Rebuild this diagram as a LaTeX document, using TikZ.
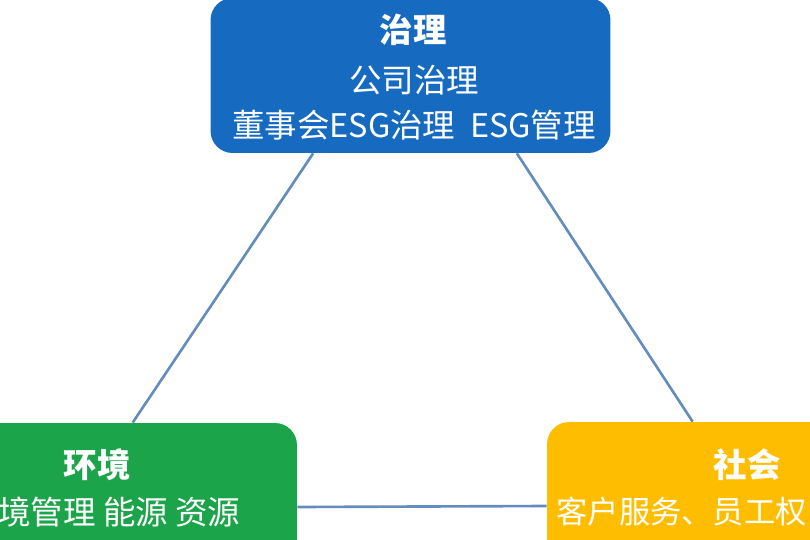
\documentclass[tikz,border=0pt]{standalone}
\usepackage{fontspec}
\newfontfamily\cjk{Noto Sans CJK SC}
\usetikzlibrary{positioning}

\definecolor{govblue}{RGB}{22,106,192}
\definecolor{envgreen}{RGB}{28,164,74}
\definecolor{socyellow}{RGB}{255,189,0}
\definecolor{linkblue}{RGB}{100,140,188}

\tikzset{
  pillar/.style={rounded corners=0.44cm, minimum width=8cm, minimum height=3.6cm, inner sep=0pt},
  headline/.style={text=white, font=\cjk\bfseries\fontsize{19}{22}\selectfont, inner sep=0pt},
  itemline/.style={text=white, font=\cjk\fontsize{18.5}{21}\selectfont, inner sep=0pt},
  link/.style={draw=linkblue, line width=1.5pt}
}

\begin{document}
\begin{tikzpicture}[x=0.02cm, y=-0.02cm]
\useasboundingbox (0,0) rectangle (810,540);
\clip (0,0) rectangle (810,540);

% --- Boxes ---
\node[pillar, fill=govblue, minimum height=3.1cm] (gov) at (410.5,75.5) {};
\node[pillar, fill=envgreen] (env) at (97,513) {};
\node[pillar, fill=socyellow] (soc) at (747,512) {};

% --- Connectors ---
\draw[link] ([xshift=2.06cm]gov.south west) -- ([xshift=4.72cm]env.north west);
\draw[link] ([xshift=-1.88cm]gov.south east) -- ([xshift=2.92cm]soc.north west);
\draw[link] ([yshift=0.12cm]env.east) -- ([yshift=0.12cm]soc.west);

% Labels
\node[headline] (govT) at (413,30) {治理};
\node[itemline] (govA) at (414,80) {公司治理};
\node[itemline] (govB) at (414,125) {董事会ESG治理\ \ ESG管理};

\node[headline] (envT) at (97,465) {环境};
\node[itemline, anchor=west] (envA) at (-2,512) {境管理 能源 资源};

\node[headline] (socT) at (747,465) {社会};
\node[itemline, font=\cjk\fontsize{17.8}{21}\selectfont, anchor=east] (socA) at (807,512) {客户服务、员工权};

\end{tikzpicture}
\end{document}
